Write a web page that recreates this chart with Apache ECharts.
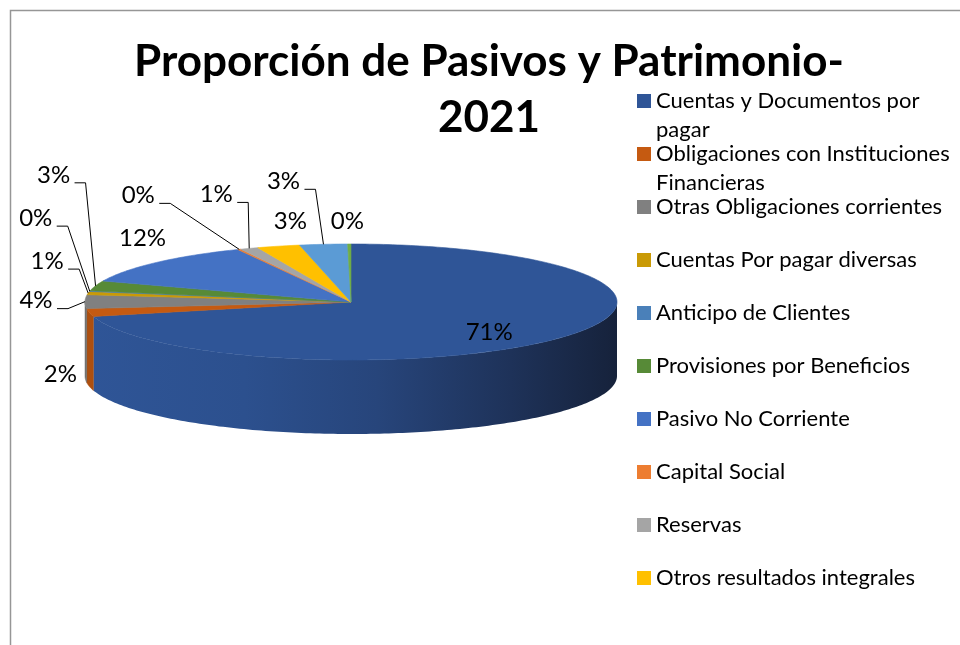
<!DOCTYPE html>
<html>
<head>
<meta charset="utf-8">
<script src="https://cdn.jsdelivr.net/npm/echarts@6/dist/echarts.min.js"></script>
<style>
html,body{margin:0;padding:0;background:#fff;}
#chart{width:960px;height:645px;}
</style>
</head>
<body>
<div id="chart"></div>
<script>
// ---------- data ----------
const chartTitle = 'Proporción de Pasivos y Patrimonio-\n2021';
const categories = [
  'Cuentas y Documentos por pagar',
  'Obligaciones con Instituciones Financieras',
  'Otras Obligaciones corrientes',
  'Cuentas Por pagar diversas',
  'Anticipo de Clientes',
  'Provisiones por Beneficios',
  'Pasivo No Corriente',
  'Capital Social',
  'Reservas',
  'Otros resultados integrales',
  'Resultados acumulados',
  'Resultado del ejercicio'
];
const shares = [71.0, 2.2, 3.8, 0.9, 0.2, 2.8, 12.1, 0.2, 1.1, 2.6, 2.9, 0.2];
const legendCount = 10; // the legend in the reference lists the first 10 categories
const legendWrapped = {
  'Cuentas y Documentos por pagar': 'Cuentas y Documentos por\npagar',
  'Obligaciones con Instituciones Financieras': 'Obligaciones con Instituciones\nFinancieras'
};

// ---------- style ----------
const palette = ['#2F5597','#C55A11','#808080','#C99A06','#4A80B9','#578A37',
                 '#4472C4','#ED7D31','#A5A5A5','#FFC000','#5B9BD5','#70AD47'];
const FONT = 'Lato';
const layout = {cx: 351, cy: 302, rx: 266, ry: 58, depth: 74};
// label placement relative to the slice's rim anchor (style only)
const labelShift = [[-72,-5],[-29,62],[-49,-1],[-41,-32],[-54,-73],[-42,-111],
                    [-14,-24],[-101,-54],[-33,-54],[12,-25],[-40,-63],[-2,-23]];
const hasLeader = [false,false,true,true,true,true,false,true,true,false,true,false];

const total = shares.reduce((a, b) => a + b, 0);
const startDeg = [];
{
  let acc = 0;
  shares.forEach(v => { startDeg.push(acc / total * 360); acc += v; });
}

function shade(hex, f) {
  const n = parseInt(hex.slice(1), 16);
  const r = Math.round(((n >> 16) & 255) * f), g = Math.round(((n >> 8) & 255) * f), b = Math.round((n & 255) * f);
  return 'rgb(' + r + ',' + g + ',' + b + ')';
}

function wallFill(i) {
  if (i === 0) {
    return new echarts.graphic.LinearGradient(layout.cx - layout.rx, 0, layout.cx + layout.rx, 0, [
      {offset: 0, color: '#2f5597'},
      {offset: 0.3, color: '#2c508e'},
      {offset: 0.55, color: '#27457b'},
      {offset: 0.8, color: '#1e3259'},
      {offset: 1, color: '#16223b'}
    ], true);
  }
  return shade(palette[i], 0.88);
}

function buildRender(i) {
  return function (params, api) {
    const v = api.value(0);
    const a0 = startDeg[i];
    const a1 = a0 + v / total * 360;
    const L = layout;
    const P = (deg, dy) => {
      const r = deg * Math.PI / 180;
      return [L.cx + L.rx * Math.sin(r), L.cy - L.ry * Math.cos(r) + (dy || 0)];
    };
    const arc = (s, e, dy) => {
      const n = Math.max(2, Math.ceil(e - s) + 1);
      const pts = [];
      for (let k = 0; k < n; k++) pts.push(P(s + (e - s) * k / (n - 1), dy));
      return pts;
    };
    const color = palette[i];
    const children = [];
    const ws = Math.max(a0, 90), we = Math.min(a1, 270);
    if (we > ws) {
      const pts = arc(ws, we, 0).concat(arc(ws, we, L.depth).reverse());
      const wf = wallFill(i);
      children.push({type: 'polygon', shape: {points: pts},
        style: i === 0 ? {fill: wf} : {fill: wf, stroke: wf, lineWidth: 0.5}});
    }
    children.push({type: 'polygon', shape: {points: [[L.cx, L.cy]].concat(arc(a0, a1, 0))},
      style: {fill: color, stroke: color, lineWidth: 0.6}});
    const mid = (a0 + a1) / 2;
    const anc = P(mid, 0);
    const lx = anc[0] + labelShift[i][0], ly = anc[1] + labelShift[i][1];
    children.push({type: 'text', z2: 50, style: {
      text: Math.round(v / total * 100) + '%', x: lx, y: ly,
      align: 'center', verticalAlign: 'middle', fill: '#000',
      fontSize: 24, fontFamily: FONT}});
    if (hasLeader[i]) {
      children.push({type: 'polyline', z2: 40,
        shape: {points: [[lx + 21, ly + 8], [lx + 32, ly + 8], anc]},
        style: {stroke: '#000', lineWidth: 1, fill: null}});
    }
    return {type: 'group', children: children};
  };
}

const legendIcon = 'path://M0,0L0.05,0Z M0,7.5L14,7.5L14,21.5L0,21.5Z M0,58L0.05,58Z';

const chart = echarts.init(document.getElementById('chart'), null, {renderer: 'canvas'});
chart.setOption({
  backgroundColor: '#ffffff',
  animation: false,
  title: {
    text: chartTitle, left: 489, top: 34, padding: 0, textAlign: 'center',
    textStyle: {fontFamily: FONT, fontWeight: 'bold', fontSize: 44, lineHeight: 56, color: '#000'}
  },
  legend: {
    orient: 'vertical', left: 637, top: 86.5, padding: 0,
    itemWidth: 14, itemHeight: 58, itemGap: -5, selectedMode: false,
    data: categories.slice(0, legendCount).map(n => ({name: n, icon: legendIcon})),
    formatter: n => legendWrapped[n] || (n + '\n '),
    textStyle: {fontFamily: FONT, fontSize: 22, lineHeight: 29, color: '#000'}
  },
  graphic: [{
    type: 'rect', silent: true,
    shape: {x: 10.5, y: 10.5, width: 2000, height: 2000},
    style: {fill: null, stroke: '#969696', lineWidth: 1.5}
  }],
  series: categories.map((name, i) => ({
    type: 'custom', name: name, coordinateSystem: 'none',
    renderItem: buildRender(i),
    itemStyle: {color: palette[i]},
    data: [{value: shares[i], name: name}]
  }))
});
</script>
</body>
</html>
